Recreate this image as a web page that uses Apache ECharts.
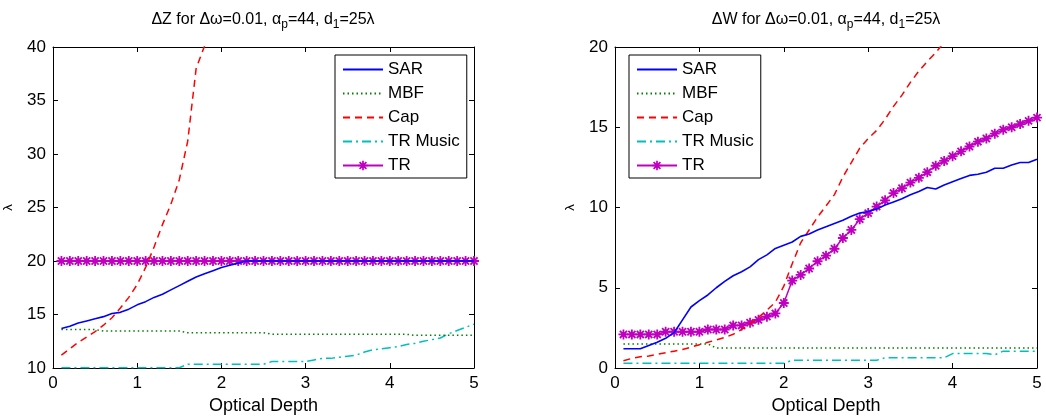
<!DOCTYPE html>
<html>
<head>
<meta charset="utf-8">
<title>Optical Depth</title>
<script src="https://cdn.jsdelivr.net/npm/echarts@6/dist/echarts.min.js"></script>
<style>
  html, body { margin: 0; padding: 0; background: #fff; }
  #main { width: 1046px; height: 416px; }
</style>
</head>
<body>
<div id="main"></div>
<script>
// x: optical depth
var depth = [0.1, 0.2, 0.3, 0.4, 0.5, 0.6, 0.7, 0.8, 0.9, 1.0,
             1.1, 1.2, 1.3, 1.4, 1.5, 1.6, 1.7, 1.8, 1.9, 2.0,
             2.1, 2.2, 2.3, 2.4, 2.5, 2.6, 2.7, 2.8, 2.9, 3.0,
             3.1, 3.2, 3.3, 3.4, 3.5, 3.6, 3.7, 3.8, 3.9, 4.0,
             4.1, 4.2, 4.3, 4.4, 4.5, 4.6, 4.7, 4.8, 4.9, 5.0];

// 左图 ΔZ
var zSar = [13.7, 13.9, 14.2, 14.4, 14.6, 14.8, 15.1, 15.2, 15.5, 15.9,
            16.2, 16.6, 16.9, 17.3, 17.7, 18.1, 18.5, 18.8, 19.1, 19.4,
            19.6, 19.8, 20, 20, 20, 20, 20, 20, 20, 20,
            20, 20, 20, 20, 20, 20, 20, 20, 20, 20,
            20, 20, 20, 20, 20, 20, 20, 20, 20, 20];
var zMbf = [13.6, 13.6, 13.6, 13.6, 13.6, 13.45, 13.45, 13.45, 13.45, 13.45,
            13.45, 13.45, 13.45, 13.45, 13.45, 13.3, 13.3, 13.3, 13.3, 13.3,
            13.3, 13.3, 13.3, 13.3, 13.3, 13.15, 13.15, 13.15, 13.15, 13.15,
            13.15, 13.15, 13.15, 13.15, 13.15, 13.15, 13.15, 13.15, 13.15, 13.15,
            13.15, 13.15, 13.05, 13.05, 13.05, 13.05, 13.05, 13.05, 13.05, 13.05];
var zCap = [11.2, 11.8, 12.4, 12.9, 13.4, 14.0, 14.7, 15.6, 16.6, 17.8,
            19.4, 21.3, 23.4, 25.3, 27.6, 31.2, 38.0, 40.1, 42.5, null,
            null, null, null, null, null, null, null, null, null, null,
            null, null, null, null, null, null, null, null, null, null,
            null, null, null, null, null, null, null, null, null, null];
var zMusic = [10.02, 10.02, 10.02, 10.02, 10.02, 10.02, 10.02, 10.02, 10.02, 10.02,
              10.02, 10.02, 10.02, 10.02, 10.02, 10.35, 10.35, 10.35, 10.35, 10.35,
              10.35, 10.35, 10.35, 10.35, 10.35, 10.6, 10.6, 10.6, 10.6, 10.6,
              10.75, 10.9, 10.9, 11.0, 11.1, 11.2, 11.5, 11.7, 11.8, 11.9,
              12.0, 12.2, 12.3, 12.5, 12.65, 12.8, 13.2, 13.5, 13.8, 14.1];
var zTr = [20, 20, 20, 20, 20, 20, 20, 20, 20, 20,
           20, 20, 20, 20, 20, 20, 20, 20, 20, 20,
           20, 20, 20, 20, 20, 20, 20, 20, 20, 20,
           20, 20, 20, 20, 20, 20, 20, 20, 20, 20,
           20, 20, 20, 20, 20, 20, 20, 20, 20, 20];

// 右图 ΔW
var wSar = [1.2, 1.2, 1.2, 1.4, 1.6, 1.85, 2.2, 3.0, 3.8, 4.2,
            4.55, 5.0, 5.4, 5.75, 6.0, 6.3, 6.75, 7.05, 7.45, 7.65,
            7.85, 8.2, 8.35, 8.6, 8.8, 9.0, 9.2, 9.45, 9.65, 9.75,
            9.9, 10.15, 10.35, 10.55, 10.8, 11.0, 11.25, 11.15, 11.4, 11.6,
            11.8, 12.0, 12.07, 12.2, 12.45, 12.45, 12.65, 12.8, 12.8, 13.0];
var wMbf = [1.5, 1.5, 1.5, 1.5, 1.5, 1.5, 1.5, 1.5, 1.5, 1.5,
            1.5, 1.25, 1.25, 1.25, 1.25, 1.25, 1.25, 1.25, 1.25, 1.25,
            1.25, 1.25, 1.25, 1.25, 1.25, 1.25, 1.25, 1.25, 1.25, 1.25,
            1.25, 1.25, 1.25, 1.25, 1.25, 1.25, 1.25, 1.25, 1.25, 1.25,
            1.25, 1.25, 1.25, 1.25, 1.25, 1.25, 1.25, 1.25, 1.25, 1.25];
var wCap = [0.45, 0.6, 0.7, 0.75, 0.85, 0.95, 1.05, 1.15, 1.3, 1.45,
            1.6, 1.75, 1.9, 2.1, 2.4, 2.75, 3.15, 3.6, 4.1, 5.1,
            6.5, 7.8, 8.6, 9.4, 10.1, 10.8, 11.9, 12.8, 13.7, 14.3,
            14.8, 15.5, 16.3, 17.0, 17.8, 18.5, 19.1, 19.65, 20.3, null,
            null, null, null, null, null, null, null, null, null, null];
var wMusic = [0.3, 0.3, 0.3, 0.3, 0.3, 0.3, 0.3, 0.3, 0.3, 0.3,
              0.3, 0.3, 0.3, 0.3, 0.3, 0.3, 0.3, 0.3, 0.3, 0.3,
              0.48, 0.48, 0.48, 0.48, 0.48, 0.48, 0.48, 0.48, 0.48, 0.48,
              0.48, 0.64, 0.64, 0.64, 0.64, 0.64, 0.64, 0.64, 0.64, 0.9,
              0.9, 0.9, 0.9, 0.9, 0.82, 1.05, 1.05, 1.05, 1.05, 1.05];
var wTr = [2.09, 2.09, 2.09, 2.09, 2.09, 2.26, 2.26, 2.26, 2.26, 2.26,
           2.4, 2.4, 2.4, 2.65, 2.65, 2.82, 3.0, 3.2, 3.4, 4.05,
           5.45, 5.8, 6.2, 6.65, 7.0, 7.43, 8.1, 8.6, 9.27, 9.65,
           10.06, 10.45, 10.9, 11.2, 11.55, 11.85, 12.2, 12.6, 12.9, 13.2,
           13.5, 13.8, 14.1, 14.3, 14.6, 14.85, 15.0, 15.2, 15.4, 15.6];

var names = ['SAR', 'MBF', 'Cap', 'TR Music', 'TR'];
var FONT = '"Liberation Sans", Arial, Helvetica, sans-serif';
var STAR = 'path://M-0.9,-5L0.9,-5L0.9,5L-0.9,5Z M-5,-0.9L5,-0.9L5,0.9L-5,0.9Z ' +
           'M-4.2,-2.9L-2.9,-4.2L4.2,2.9L2.9,4.2Z M2.9,-4.2L4.2,-2.9L-2.9,4.2L-4.2,2.9Z';

window.onload = function () {
    initChart();
};

function pairs(ys) {
    var out = [];
    for (var i = 0; i < depth.length; i++) {
        out.push([depth[i], ys[i]]);
    }
    return out;
}

function makeSeries(idx, list) {
    var styles = [
        { color: '#0000ff', type: 'solid', width: 1.6 },
        { color: '#008000', type: [1.5, 3], width: 1.5 },
        { color: '#ff0000', type: [7, 5], width: 1.5 },
        { color: '#00bfbf', type: [9, 4, 2, 4], width: 1.5 },
        { color: '#bf00bf', type: 'solid', width: 1.5 }
    ];
    var out = [];
    for (var i = 0; i < names.length; i++) {
        var s = styles[i];
        out.push({
            name: names[i],
            type: 'line',
            xAxisIndex: idx * 2,
            yAxisIndex: idx * 2,
            data: pairs(list[i]),
            symbol: i === 4 ? STAR : 'none',
            symbolSize: 10,
            showSymbol: i === 4,
            itemStyle: { color: s.color },
            lineStyle: { color: s.color, type: s.type, width: s.width },
            animation: false,
            z: 10 - i
        });
    }
    return out;
}

function axesFor(idx, min, max, interval, showLabel, pos) {
    return {
        type: 'value',
        gridIndex: idx,
        min: min,
        max: max,
        interval: interval,
        position: pos,
        axisLine: { show: true, onZero: false, lineStyle: { color: '#000', width: 1 } },
        axisTick: { show: true, inside: true, length: 5, lineStyle: { color: '#000' } },
        axisLabel: { show: showLabel, color: '#000', fontSize: 17, fontFamily: FONT, margin: 7 },
        splitLine: { show: false }
    };
}

function initChart() {
    var myChart = echarts.init(document.getElementById('main'), null, { renderer: 'canvas' });

    // 标题下标
    var rich = {
        n: { fontSize: 16, fontWeight: 'normal', fontFamily: FONT, color: '#000' },
        s: { fontSize: 12, fontWeight: 'normal', fontFamily: FONT, color: '#000', padding: [10, 0, 0, 0] }
    };

    var xAxes = [];
    var yAxes = [];
    [0, 1].forEach(function (g) {
        var xb = axesFor(g, 0, 5, 1, true, 'bottom');
        xb.name = 'Optical Depth';
        xb.nameLocation = 'middle';
        xb.nameGap = 27;
        xb.nameTextStyle = { color: '#000', fontSize: 18, fontFamily: FONT };
        xAxes.push(xb);
        xAxes.push(axesFor(g, 0, 5, 1, false, 'top'));

        var yl = g === 0 ? axesFor(g, 10, 40, 5, true, 'left') : axesFor(g, 0, 20, 5, true, 'left');
        yl.name = 'λ';
        yl.nameLocation = 'middle';
        yl.nameRotate = 90;
        yl.nameGap = 38;
        yl.nameTextStyle = { color: '#000', fontSize: 13, fontFamily: FONT };
        yAxes.push(yl);
        yAxes.push(g === 0 ? axesFor(g, 10, 40, 5, false, 'right') : axesFor(g, 0, 20, 5, false, 'right'));
    });

    // 图例: 线条样式, 只有 TR 显示标记
    var legendData = names.map(function (n, i) {
        return i === 4 ? { name: n } : { name: n, itemStyle: { opacity: 0 } };
    });
    var legendBase = {
        orient: 'vertical',
        data: legendData,
        itemWidth: 40,
        itemHeight: 12,
        itemGap: 7,
        padding: [6, 7, 4, 7],
        borderColor: '#000',
        borderWidth: 1,
        borderRadius: 0,
        backgroundColor: '#fff',
        selectedMode: false,
        textStyle: { color: '#000', fontSize: 17, fontFamily: FONT },
        z: 20
    };

    var option = {
        backgroundColor: '#fff',
        animation: false,
        title: [
            {
                text: '{n|ΔZ for Δω=0.01, α}{s|p}{n|=44, d}{s|1}{n|=25λ}',
                left: 263, top: 9, textAlign: 'center', padding: 0,
                textStyle: { rich: rich, fontWeight: 'normal' }
            },
            {
                text: '{n|ΔW for Δω=0.01, α}{s|p}{n|=44, d}{s|1}{n|=25λ}',
                left: 826, top: 9, textAlign: 'center', padding: 0,
                textStyle: { rich: rich, fontWeight: 'normal' }
            }
        ],
        legend: [
            Object.assign({}, legendBase, { left: 335, top: 55 }),
            Object.assign({}, legendBase, { left: 629, top: 55 })
        ],
        // 固定绘图区, 不让 v6 自动收缩
        grid: [
            { left: 53, right: 572, top: 47, bottom: 48, containLabel: false, outerBoundsMode: 'none' },
            { left: 615, right: 9, top: 47, bottom: 48, containLabel: false, outerBoundsMode: 'none' }
        ],
        xAxis: xAxes,
        yAxis: yAxes,
        series: makeSeries(0, [zSar, zMbf, zCap, zMusic, zTr])
            .concat(makeSeries(1, [wSar, wMbf, wCap, wMusic, wTr]))
    };

    myChart.setOption(option);
}
</script>
</body>
</html>
